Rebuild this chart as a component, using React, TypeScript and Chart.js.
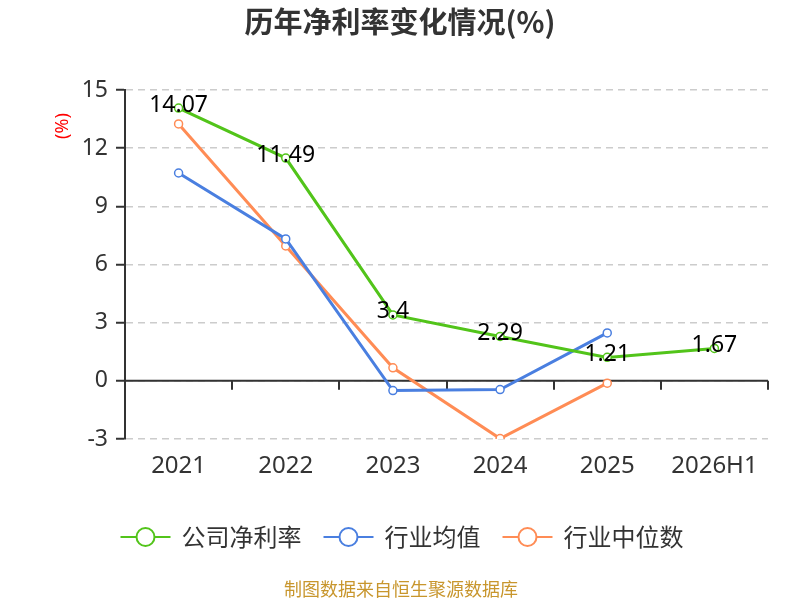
import React, { useEffect, useRef } from "react";
import { Chart, registerables } from "chart.js";

Chart.register(...registerables);

const categories = ["2021", "2022", "2023", "2024", "2025", "2026H1"];
const companyNetMargin = [14.07, 11.49, 3.4, 2.29, 1.21, 1.67];
const industryAverage = [10.72, 7.32, -0.5, -0.45, 2.47, null];
const industryMedian = [13.25, 6.96, 0.67, -2.98, -0.12, null];
const yTicks = [-3, 0, 3, 6, 9, 12, 15];
const seriesNames = ["公司净利率", "行业均值", "行业中位数"];
const seriesColors = ["#52c41a", "#4a7fe0", "#ff8c55"];
const titleText = "历年净利率变化情况(%)";
const unitText = "(%)";
const sourceText = "制图数据来自恒生聚源数据库";

const FONT = "'Noto Sans', 'Noto Sans CJK SC', sans-serif";
const CJK = "'Noto Sans CJK SC', 'Noto Sans', sans-serif";

const decorPlugin = {
  id: "decor",
  beforeDatasetsDraw(chart: any) {
    const { ctx, chartArea, scales } = chart;
    const y0 = scales.y.getPixelForValue(0);
    ctx.save();
    ctx.strokeStyle = "#333333";
    ctx.lineWidth = 2;
    ctx.beginPath();
    ctx.moveTo(chartArea.left, y0);
    ctx.lineTo(chartArea.right, y0);
    const n = categories.length;
    const w = (chartArea.right - chartArea.left) / n;
    for (let i = 1; i <= n; i++) {
      const x = Math.round(chartArea.left + i * w);
      ctx.moveTo(x, y0);
      ctx.lineTo(x, y0 + 9);
    }
    ctx.stroke();
    ctx.restore();
  },
  afterDatasetsDraw(chart: any) {
    const { ctx } = chart;
    const meta = chart.getDatasetMeta(0);
    ctx.save();
    ctx.fillStyle = "#000000";
    ctx.font = `23px ${FONT}`;
    ctx.textAlign = "center";
    ctx.textBaseline = "middle";
    meta.data.forEach((pt: any, i: number) => {
      const v = companyNetMargin[i];
      if (v == null) return;
      ctx.fillText(String(v), pt.x, pt.y - 3);
    });
    ctx.restore();
  },
  afterDraw(chart: any) {
    const { ctx } = chart;
    ctx.save();
    // title
    ctx.fillStyle = "#333333";
    ctx.font = `bold 29px ${CJK}`;
    ctx.textAlign = "center";
    ctx.textBaseline = "middle";
    ctx.fillText(titleText, 400, 22);
    // unit
    ctx.save();
    ctx.translate(63, 126);
    ctx.rotate(-Math.PI / 2);
    ctx.fillStyle = "#ff0000";
    ctx.font = `18px ${FONT}`;
    ctx.fillText(unitText, 0, 0);
    ctx.restore();
    // legend
    ctx.font = `24px ${CJK}`;
    const lineLen = 50;
    const textGap = 11;
    const itemGap = 22;
    const widths = seriesNames.map((s) => ctx.measureText(s).width);
    let total = 0;
    widths.forEach((w, i) => {
      total += lineLen + textGap + w + (i < widths.length - 1 ? itemGap : 0);
    });
    let x = 402 - total / 2;
    const ly = 537;
    seriesNames.forEach((name, i) => {
      ctx.strokeStyle = seriesColors[i];
      ctx.lineWidth = 2;
      ctx.beginPath();
      ctx.moveTo(x, ly);
      ctx.lineTo(x + lineLen, ly);
      ctx.stroke();
      ctx.beginPath();
      ctx.arc(x + lineLen / 2, ly, 9, 0, Math.PI * 2);
      ctx.fillStyle = "#ffffff";
      ctx.fill();
      ctx.stroke();
      ctx.fillStyle = "#333333";
      ctx.textAlign = "left";
      ctx.fillText(name, x + lineLen + textGap, ly);
      x += lineLen + textGap + widths[i] + itemGap;
    });
    // source
    ctx.fillStyle = "#c8962d";
    ctx.font = `18px ${CJK}`;
    ctx.textAlign = "center";
    ctx.fillText(sourceText, 401, 589);
    ctx.restore();
  },
};

export default function App() {
  const canvasRef = useRef<HTMLCanvasElement | null>(null);

  useEffect(() => {
    document.body.style.margin = "0";
    const canvas = canvasRef.current;
    if (!canvas) return;
    const mk = (i: number, data: (number | null)[]) => ({
      label: seriesNames[i],
      data,
      borderColor: seriesColors[i],
      backgroundColor: "#ffffff",
      borderWidth: 3,
      pointRadius: 4,
      pointBorderWidth: 1.5,
      pointBackgroundColor: "#ffffff",
      pointBorderColor: seriesColors[i],
      tension: 0,
      spanGaps: false,
    });
    const chart = new Chart(canvas, {
      type: "line",
      data: {
        labels: categories,
        datasets: [
          mk(0, companyNetMargin),
          mk(1, industryAverage),
          mk(2, industryMedian),
        ],
      },
      plugins: [decorPlugin],
      options: {
        animation: false,
        responsive: false,
        maintainAspectRatio: false,
        devicePixelRatio: 1,
        layout: { padding: { top: 90, right: 32, bottom: 0, left: 0 } },
        plugins: {
          legend: { display: false },
          title: { display: false },
          tooltip: { enabled: false },
        },
        scales: {
          x: {
            type: "category",
            offset: true,
            grid: { display: false, drawTicks: false },
            border: { display: false },
            ticks: {
              color: "#333333",
              font: { size: 24, family: FONT },
              padding: 13,
              maxRotation: 0,
              autoSkip: false,
            },
            afterFit: (scale: any) => {
              scale.height = 161;
            },
          },
          y: {
            min: -3,
            max: 15,
            afterBuildTicks: (scale: any) => {
              scale.ticks = yTicks.map((v) => ({ value: v }));
            },
            afterFit: (scale: any) => {
              scale.width = 125;
            },
            grid: {
              color: "#cccccc",
              lineWidth: 1.5,
              drawTicks: true,
              tickLength: 9,
              tickColor: "#333333",
              tickWidth: 2,
            },
            border: { display: true, color: "#333333", width: 2, dash: [7, 5] },
            ticks: {
              color: "#333333",
              font: { size: 23, family: FONT },
              padding: 8,
            },
          },
        },
      },
    } as any);
    return () => chart.destroy();
  }, []);

  return (
    <div style={{ width: 800, height: 600 }}>
      <canvas ref={canvasRef} width={800} height={600} style={{ display: "block" }} />
    </div>
  );
}
